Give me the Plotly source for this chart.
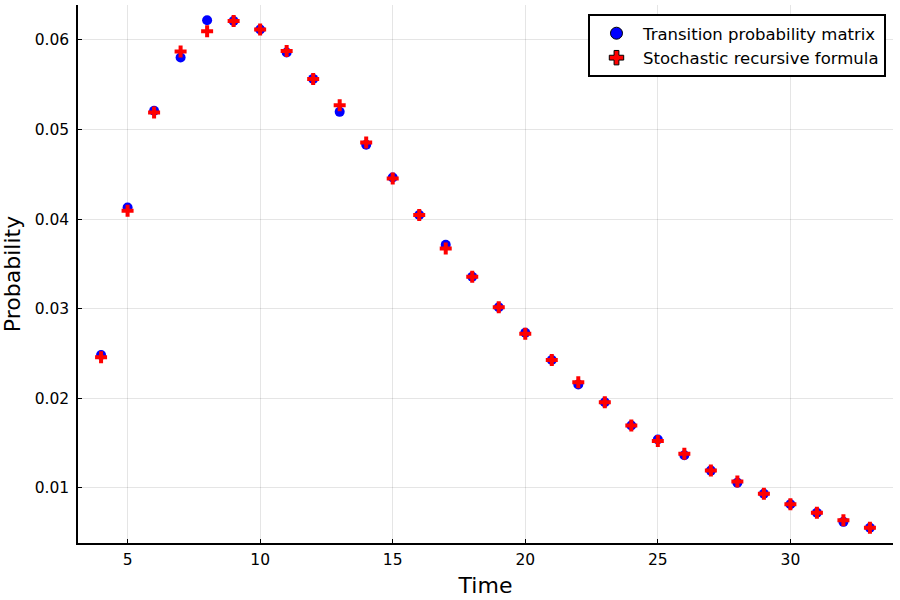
import plotly.graph_objects as go

time = list(range(4, 34))
transition_matrix = [0.02483, 0.0413, 0.05209, 0.05804, 0.0622, 0.06212, 0.06116, 0.0586,
                     0.05565, 0.05197, 0.04829, 0.04465, 0.04045, 0.03714, 0.03357, 0.03015,
                     0.02732, 0.02427, 0.02153, 0.01955, 0.01695, 0.01539, 0.01363, 0.01192,
                     0.01058, 0.00933, 0.00817, 0.00721, 0.0062, 0.00554]
stochastic_recursive = [0.02458, 0.04094, 0.0519, 0.05871, 0.06097, 0.06212, 0.06116, 0.05877,
                        0.05565, 0.05272, 0.04856, 0.04454, 0.04045, 0.03673, 0.03357, 0.03015,
                        0.02721, 0.02427, 0.02178, 0.01955, 0.01695, 0.01524, 0.01379, 0.01192,
                        0.01071, 0.00933, 0.00817, 0.00721, 0.00639, 0.00554]
series_names = ["Transition probability matrix", "Stochastic recursive formula"]

x_ticks = [5, 10, 15, 20, 25, 30]
y_ticks = [0.01, 0.02, 0.03, 0.04, 0.05, 0.06]
y_tick_labels = ["0.01", "0.02", "0.03", "0.04", "0.05", "0.06"]

fig = go.Figure()
fig.add_trace(go.Scatter(
    x=time, y=transition_matrix, mode="markers", name=series_names[0], showlegend=False,
    marker=dict(symbol="circle", size=10, color="#0000ff", line=dict(width=0))))
fig.add_trace(go.Scatter(
    x=time, y=stochastic_recursive, mode="markers", name=series_names[1], showlegend=False,
    marker=dict(symbol="cross", size=10, color="#ff0000", line=dict(width=0))))
# legend entries (GR draws legend symbols with a black outline)
fig.add_trace(go.Scatter(
    x=[None], y=[None], mode="markers", name=series_names[0],
    marker=dict(symbol="circle", size=12, color="#0000ff", line=dict(width=1, color="black"))))
fig.add_trace(go.Scatter(
    x=[None], y=[None], mode="markers", name=series_names[1],
    marker=dict(symbol="cross", size=12, color="#ff0000", line=dict(width=1, color="black"))))

font = "DejaVu Sans, sans-serif"
fig.update_layout(
    width=900, height=600,
    paper_bgcolor="white", plot_bgcolor="white",
    margin=dict(l=78, r=7, t=5, b=57, autoexpand=False),
    font=dict(family=font, size=15.5, color="black"),
    showlegend=True,
    legend=dict(x=0.9914, y=0.9833, xanchor="right", yanchor="top",
                bordercolor="black", borderwidth=2, bgcolor="white",
                font=dict(family=font, size=16.5), tracegroupgap=0,
                itemwidth=43),
    xaxis=dict(range=[3.13, 33.87], tickvals=x_ticks, ticks="inside", ticklen=4,
               tickcolor="black", showline=True, linecolor="black", linewidth=1.5,
               showgrid=True, gridcolor="rgba(0,0,0,0.1)", gridwidth=1, zeroline=False,
               automargin=False, ticklabelstandoff=2,
               title=dict(text="Time", font=dict(size=22), standoff=9),
               tickfont=dict(size=15.5)),
    yaxis=dict(range=[0.00384, 0.0639], tickvals=y_ticks, ticktext=y_tick_labels,
               ticks="inside", ticklen=4, tickcolor="black", showline=True,
               linecolor="black", linewidth=1.5, showgrid=True,
               gridcolor="rgba(0,0,0,0.1)", gridwidth=1, zeroline=False,
               automargin=False, ticklabelstandoff=4,
               title=dict(text="Probability", font=dict(size=22), standoff=8),
               tickfont=dict(size=15.5)),
)

fig.write_html("out.html", config={"displayModeBar": False},
               post_script="document.body.style.margin='0';")
